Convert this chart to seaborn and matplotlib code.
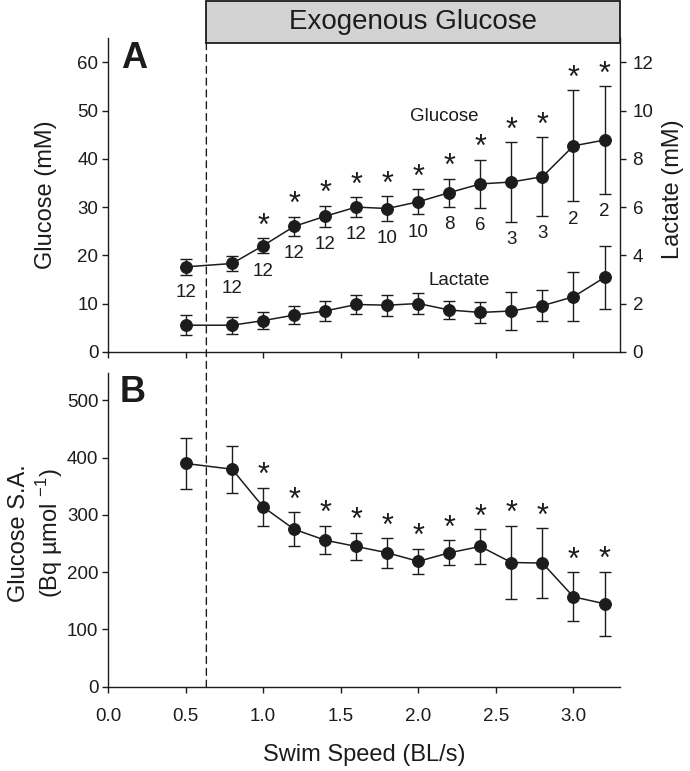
import numpy as np
import pandas as pd
import matplotlib
matplotlib.use("Agg")
import matplotlib.pyplot as plt
import matplotlib.transforms as mtransforms
from matplotlib.patches import Rectangle, ConnectionPatch
import seaborn as sns

# ---------------- data ----------------
speed = [0.5, 0.8, 1.0, 1.2, 1.4, 1.6, 1.8, 2.0, 2.2, 2.4, 2.6, 2.8, 3.0, 3.2]
glucose = [17.6, 18.3, 22.0, 26.0, 28.1, 30.0, 29.7, 31.1, 33.0, 34.8, 35.2, 36.3, 42.7, 43.9]
glucose_err = [1.7, 1.6, 1.6, 2.0, 2.2, 2.1, 2.5, 2.6, 2.9, 5.0, 8.2, 8.2, 11.5, 11.2]
lactate = [1.10, 1.10, 1.29, 1.52, 1.69, 1.96, 1.93, 2.00, 1.73, 1.63, 1.69, 1.91, 2.28, 3.08]
lactate_err = [0.41, 0.35, 0.35, 0.39, 0.42, 0.41, 0.43, 0.45, 0.37, 0.43, 0.78, 0.65, 1.02, 1.32]
n_fish = [12, 12, 12, 12, 12, 12, 10, 10, 8, 6, 3, 3, 2, 2]
glucose_sig = [False, False, True, True, True, True, True, True, True, True, True, True, True, True]
sa = [390, 380, 314, 275, 256, 245, 234, 219, 234, 245, 217, 216, 157, 145]
sa_err = [44, 41, 34, 30, 25, 24, 26, 22, 22, 30, 64, 61, 43, 56]
sa_sig = [False, False, True, True, True, True, True, True, True, True, True, True, True, True]
infusion_start = 0.634
x_ticks = [0.0, 0.5, 1.0, 1.5, 2.0, 2.5, 3.0]
glucose_ticks = [0, 10, 20, 30, 40, 50, 60]
lactate_ticks = [0, 2, 4, 6, 8, 10, 12]
sa_ticks = [0, 100, 200, 300, 400, 500]

dfA = pd.DataFrame({"speed": speed, "glucose": glucose, "glucose_err": glucose_err,
                    "lactate": lactate, "lactate_err": lactate_err})
dfB = pd.DataFrame({"speed": speed, "sa": sa, "sa_err": sa_err})

# ---------------- style ----------------
sns.set_style("ticks")
plt.rcParams["font.family"] = ["Liberation Sans", "DejaVu Sans"]
INK = "#1c1c1c"
plt.rcParams.update({
    "axes.edgecolor": INK, "axes.linewidth": 1.0,
    "xtick.color": INK, "ytick.color": INK,
    "xtick.major.width": 1.0, "ytick.major.width": 1.0,
    "xtick.major.size": 4, "ytick.major.size": 4,
    "text.color": INK, "axes.labelcolor": INK,
})
TICK_FS = 13.5
LABEL_FS = 17

fig = plt.figure(figsize=(6.9, 7.71), dpi=100)
axA = fig.add_axes([0.1565, 0.5438, 0.7421, 0.4065])
axB = fig.add_axes([0.1565, 0.1093, 0.7421, 0.4069])
axL = axA.twinx()

line_kw = dict(color=INK, marker="o", markersize=8.5, linewidth=1.1,
               markeredgecolor=INK, errorbar=None, legend=False)
err_kw = dict(fmt="none", ecolor=INK, elinewidth=1.0, capsize=4.5, capthick=1.0)

# Panel A glucose
axA.errorbar(dfA["speed"], dfA["glucose"], yerr=dfA["glucose_err"], **err_kw)
sns.lineplot(data=dfA, x="speed", y="glucose", ax=axA, **line_kw)
# Panel A lactate (right axis)
axL.errorbar(dfA["speed"], dfA["lactate"], yerr=dfA["lactate_err"], **err_kw)
sns.lineplot(data=dfA, x="speed", y="lactate", ax=axL, **line_kw)
# Panel B
axB.errorbar(dfB["speed"], dfB["sa"], yerr=dfB["sa_err"], **err_kw)
sns.lineplot(data=dfB, x="speed", y="sa", ax=axB, **line_kw)

# limits & ticks
for ax in (axA, axB):
    ax.set_xlim(0, 3.3)
    ax.set_xticks(x_ticks)
axA.set_ylim(0, 65)
axL.set_ylim(0, 13)
axB.set_ylim(0, 548)
axA.set_yticks(glucose_ticks)
axL.set_yticks(lactate_ticks)
axB.set_yticks(sa_ticks)
axB.set_xticklabels([f"{v:.1f}" for v in x_ticks])
axA.tick_params(axis="x", labelbottom=False, direction="out")
axA.tick_params(axis="y", pad=3, labelsize=TICK_FS)
axL.tick_params(axis="y", pad=5, labelsize=TICK_FS)
axB.tick_params(axis="y", pad=3, labelsize=TICK_FS)
axB.tick_params(axis="x", pad=11, labelsize=TICK_FS)

# spines
axA.spines["top"].set_visible(False)
axL.spines["top"].set_visible(False)
axL.spines["left"].set_visible(False)
axL.spines["bottom"].set_visible(False)
axA.spines["right"].set_visible(False)
axB.spines["top"].set_visible(False)
axB.spines["right"].set_visible(False)

# labels
axA.set_xlabel("")
axL.set_xlabel("")
axA.set_ylabel("Glucose (mM)", fontsize=LABEL_FS)
axA.yaxis.set_label_coords(-0.1, 0.5)
axL.set_ylabel("Lactate (mM)", fontsize=LABEL_FS)
axL.yaxis.set_label_coords(1.082, 0.52)
axB.set_ylabel("Glucose S.A.\n(Bq µmol $^{\\mathregular{-1}}$)", fontsize=LABEL_FS, linespacing=1.2)
axB.yaxis.set_label_coords(-0.083, 0.49)
axB.set_xlabel("Swim Speed (BL/s)", fontsize=LABEL_FS, labelpad=14)

# panel letters
axA.text(0.051, 0.935, "A", transform=axA.transAxes, fontsize=26, fontweight="bold",
         ha="center", va="center")
axB.text(0.049, 0.939, "B", transform=axB.transAxes, fontsize=26, fontweight="bold",
         ha="center", va="center")

# series labels
axA.text(2.17, 48.8, "Glucose", fontsize=13.5, ha="center", va="center")
axA.text(2.265, 14.7, "Lactate", fontsize=13.5, ha="center", va="center")

# significance stars and n
for x, m, e, sig, n in zip(speed, glucose, glucose_err, glucose_sig, n_fish):
    if sig:
        axA.annotate("*", xy=(x, m + e), xytext=(0, 2.5), textcoords="offset points",
                     ha="center", va="baseline", fontsize=22)
    axA.annotate(str(n), xy=(x, m - e), xytext=(0, -16), textcoords="offset points",
                 ha="center", va="baseline", fontsize=TICK_FS)
for x, m, e, sig in zip(speed, sa, sa_err, sa_sig):
    if sig:
        axB.annotate("*", xy=(x, m + e), xytext=(0, 2.5), textcoords="offset points",
                     ha="center", va="baseline", fontsize=22)

# exogenous glucose box
trA = mtransforms.blended_transform_factory(axA.transData, axA.transAxes)
box = Rectangle((infusion_start, 0.986), 3.3 - infusion_start, 0.134, transform=trA,
                facecolor="#d3d3d3", edgecolor=INK, linewidth=1.3, clip_on=False, zorder=5)
axA.add_patch(box)
axA.text((infusion_start + 3.3) / 2, 1.053, "Exogenous Glucose", transform=trA,
         ha="center", va="center", fontsize=20, zorder=6)

# dashed line from box to panel B baseline
con = ConnectionPatch(xyA=(infusion_start, 0.986), coordsA=axA.get_xaxis_transform(),
                      xyB=(infusion_start, 0), coordsB=axB.get_xaxis_transform(),
                      color=INK, linewidth=1.0, linestyle=(0, (5, 3.5)))
fig.add_artist(con)

fig.savefig("out.png", dpi=100)
